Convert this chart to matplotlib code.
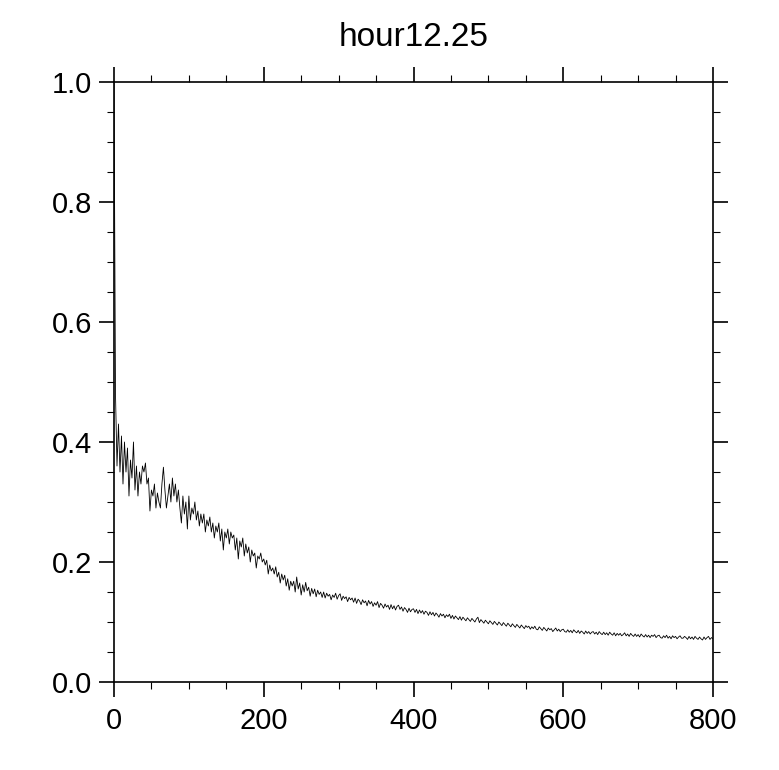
import numpy as np
import matplotlib
matplotlib.use('Agg')
from matplotlib import pyplot as plt
from matplotlib.ticker import MultipleLocator

# valores (passo de 2 em x, de 0 a 800)
valores = [
    1.0, 0.48, 0.36, 0.43, 0.35, 0.41, 0.33, 0.40, 0.35, 0.39, 0.31, 0.37, 0.34, 0.40, 0.32, 0.36, 0.31, 0.35, 0.33, 0.36,
    0.35, 0.365, 0.33, 0.34, 0.285, 0.32, 0.31, 0.33, 0.29, 0.315, 0.30, 0.29, 0.33, 0.358, 0.32, 0.29, 0.31, 0.33, 0.30, 0.34,
    0.31, 0.33, 0.30, 0.32, 0.29, 0.265, 0.31, 0.28, 0.30, 0.255, 0.31, 0.27, 0.29, 0.28, 0.30, 0.27, 0.285, 0.26, 0.28, 0.265,
    0.28, 0.25, 0.27, 0.26, 0.275, 0.25, 0.265, 0.24, 0.26, 0.25, 0.265, 0.235, 0.255, 0.22, 0.25, 0.24, 0.255, 0.23, 0.25, 0.24,
    0.245, 0.22, 0.24, 0.205, 0.235, 0.225, 0.24, 0.21, 0.23, 0.215, 0.225, 0.20, 0.22, 0.21, 0.215, 0.19, 0.21, 0.205, 0.215, 0.20,
    0.205, 0.195, 0.203, 0.18, 0.195, 0.185, 0.19, 0.18, 0.192, 0.175, 0.183, 0.165, 0.18, 0.17, 0.178, 0.16, 0.172, 0.153, 0.168, 0.16,
    0.168, 0.150, 0.175, 0.155, 0.165, 0.145, 0.162, 0.150, 0.166, 0.152, 0.158, 0.143, 0.156, 0.147, 0.155, 0.142, 0.153, 0.146, 0.150, 0.141,
    0.150, 0.140, 0.148, 0.143, 0.146, 0.137, 0.145, 0.141, 0.148, 0.138, 0.144, 0.147, 0.136, 0.143, 0.139, 0.142, 0.134, 0.141, 0.137, 0.140,
    0.133, 0.140, 0.131, 0.138, 0.135, 0.129, 0.137, 0.132, 0.135, 0.127, 0.136, 0.130, 0.134, 0.126, 0.132, 0.128, 0.134, 0.124, 0.131, 0.128,
    0.123, 0.130, 0.125, 0.128, 0.121, 0.129, 0.122, 0.127, 0.120, 0.126, 0.128, 0.121, 0.125, 0.118, 0.124, 0.121, 0.116, 0.123, 0.117, 0.121,
    0.122, 0.116, 0.121, 0.114, 0.120, 0.115, 0.119, 0.113, 0.118, 0.116, 0.111, 0.117, 0.112, 0.116, 0.110, 0.115, 0.112, 0.108, 0.114, 0.110,
    0.113, 0.107, 0.112, 0.109, 0.113, 0.106, 0.111, 0.105, 0.110, 0.107, 0.104, 0.109, 0.103, 0.108, 0.105, 0.102, 0.107, 0.104, 0.101, 0.106,
    0.103, 0.100, 0.105, 0.108, 0.099, 0.104, 0.101, 0.098, 0.103, 0.100, 0.097, 0.102, 0.099, 0.096, 0.101, 0.098, 0.095, 0.100, 0.097, 0.094,
    0.099, 0.096, 0.093, 0.098, 0.095, 0.092, 0.097, 0.094, 0.091, 0.096, 0.093, 0.090, 0.095, 0.092, 0.089, 0.094, 0.091, 0.093, 0.088, 0.092,
    0.089, 0.093, 0.088, 0.087, 0.092, 0.089, 0.086, 0.091, 0.088, 0.085, 0.090, 0.087, 0.089, 0.084, 0.087, 0.090, 0.085, 0.088, 0.084, 0.087,
    0.088, 0.084, 0.083, 0.087, 0.083, 0.086, 0.082, 0.087, 0.084, 0.082, 0.086, 0.081, 0.085, 0.083, 0.080, 0.085, 0.081, 0.084, 0.080, 0.083,
    0.084, 0.080, 0.083, 0.079, 0.084, 0.081, 0.079, 0.083, 0.079, 0.082, 0.078, 0.083, 0.080, 0.078, 0.082, 0.077, 0.081, 0.078, 0.081, 0.077,
    0.079, 0.082, 0.077, 0.080, 0.076, 0.081, 0.078, 0.076, 0.080, 0.076, 0.079, 0.075, 0.080, 0.077, 0.075, 0.079, 0.075, 0.078, 0.074, 0.078,
    0.076, 0.079, 0.074, 0.077, 0.078, 0.074, 0.073, 0.077, 0.074, 0.078, 0.073, 0.076, 0.072, 0.077, 0.074, 0.076, 0.072, 0.075, 0.077, 0.073,
    0.073, 0.076, 0.074, 0.071, 0.076, 0.072, 0.075, 0.071, 0.076, 0.073, 0.071, 0.075, 0.072, 0.070, 0.075, 0.071, 0.074, 0.076, 0.071, 0.074,
    0.072,
]
passo = 2
titulo = 'hour12.25'

x = np.arange(len(valores)) * passo

plt.rcParams['font.family'] = ['Liberation Sans', 'DejaVu Sans']

fig = plt.figure(figsize=(7.79, 7.70), dpi=100)
ax = fig.add_axes([114/779, 88/770, 599/779, 600/770])

ax.plot(x, valores, color='black', linewidth=0.6)

ax.set_xlim(0, 800)
ax.set_ylim(0, 1.0)
ax.xaxis.set_major_locator(MultipleLocator(200))
ax.xaxis.set_minor_locator(MultipleLocator(50))
ax.yaxis.set_major_locator(MultipleLocator(0.2))
ax.yaxis.set_minor_locator(MultipleLocator(0.05))
ax.yaxis.set_major_formatter(plt.FormatStrFormatter('%.1f'))

ax.tick_params(which='both', direction='out', top=True, right=True,
               labeltop=False, labelright=False, colors='black')
ax.tick_params(which='major', length=11, width=1.2, labelsize=21)
ax.tick_params(axis='x', which='major', pad=7)
ax.tick_params(axis='y', which='major', pad=5)
ax.tick_params(which='minor', length=5, width=0.8)
for s in ax.spines.values():
    s.set_linewidth(1.2)

ax.set_title(titulo, fontsize=24, pad=26)

fig.savefig('out.png', dpi=100)
